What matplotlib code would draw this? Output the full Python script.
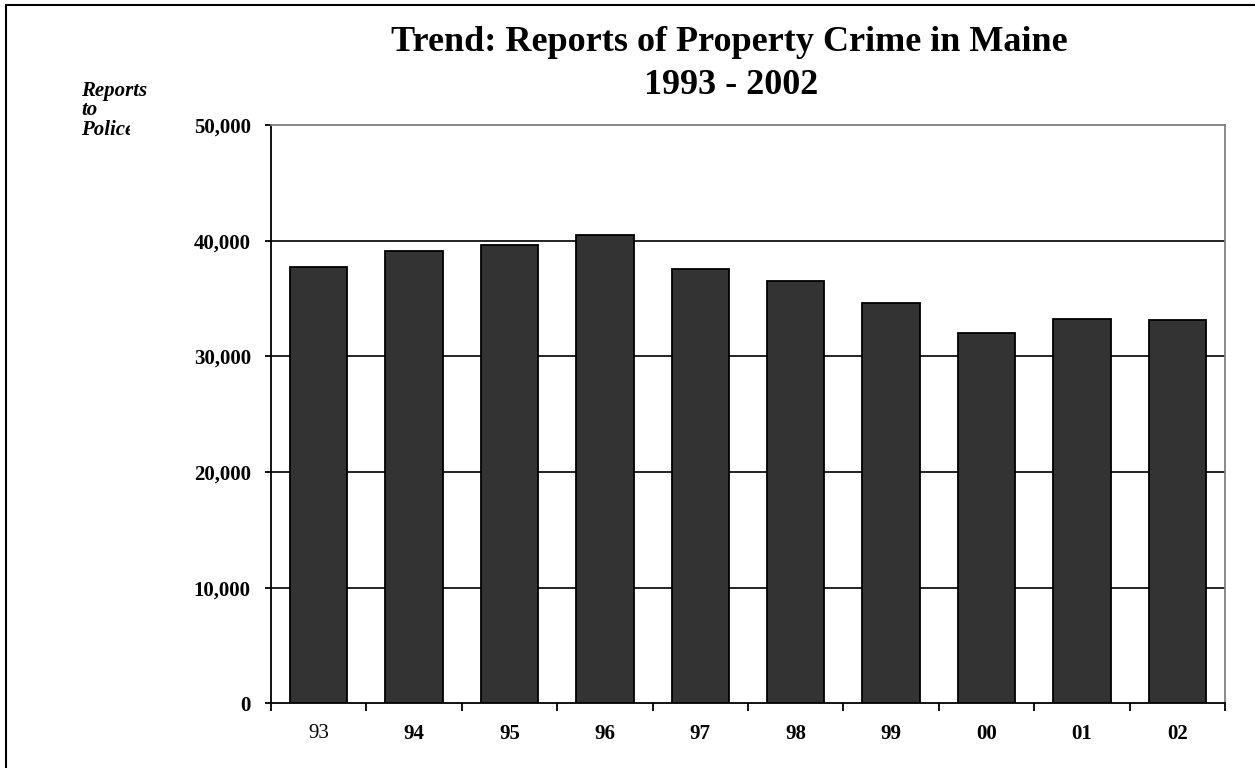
import matplotlib
matplotlib.use("Agg")
import matplotlib.pyplot as plt
from matplotlib.patches import Rectangle
from matplotlib.transforms import Bbox
from matplotlib.ticker import FixedLocator, FuncFormatter

categories = ["93", "94", "95", "96", "97", "98", "99", "00", "01", "02"]
reports = [37700, 39100, 39600, 40500, 37550, 36500, 34600, 32000, 33200, 33100]
y_ticks = [0, 10000, 20000, 30000, 40000, 50000]

W, H = 1255, 768
fig = plt.figure(figsize=(W / 100, H / 100), dpi=100)
serif = "Liberation Serif"

def fx(px):
    return px / W

def fy(py):
    return 1 - py / H

ax = fig.add_axes([fx(271), fy(703.3), fx(1225) - fx(271), fy(125) - fy(703.3)])
x = list(range(len(categories)))
ax.bar(x, reports, width=0.6, color="#333333", edgecolor="black", linewidth=1.3, zorder=3)

ax.set_xlim(-0.5, len(categories) - 0.5)
ax.set_ylim(0, 50000)

# gridlines
for t in y_ticks[1:-1]:
    ax.axhline(t, color="black", linewidth=1.2, zorder=1)

for s in ["left", "bottom"]:
    ax.spines[s].set_color("black")
    ax.spines[s].set_linewidth(1.3)
for s in ["top", "right"]:
    ax.spines[s].set_color("#808080")
    ax.spines[s].set_linewidth(1.3)

ax.yaxis.set_major_locator(FixedLocator(y_ticks))
ax.yaxis.set_major_formatter(FuncFormatter(lambda v, p: f"{int(v):,}"))
ax.tick_params(axis="y", direction="out", length=4.5, width=1.3, pad=10, color="black")
for lab in ax.get_yticklabels():
    lab.set_fontfamily(serif)
    lab.set_fontweight("bold")
    lab.set_fontsize(15)

ax.set_xticks(x)
ax.set_xticklabels(categories)
ax.set_xticks([i - 0.5 for i in range(len(categories) + 1)], minor=True)
ax.tick_params(axis="x", which="major", length=0, pad=15)
ax.tick_params(axis="x", which="minor", direction="out", length=6, width=1.3, color="black")
for i, lab in enumerate(ax.get_xticklabels()):
    lab.set_fontfamily(serif)
    lab.set_fontsize(15)
    lab.set_fontweight("normal" if i == 0 else "bold")

# title
fig.text(fx(729), fy(51), "Trend: Reports of Property Crime in Maine", ha="center", va="baseline",
         fontfamily=serif, fontweight="bold", fontsize=26)
fig.text(fx(731), fy(94), "1993 - 2002", ha="center", va="baseline",
         fontfamily=serif, fontweight="bold", fontsize=26)

# y-axis caption
fig.text(fx(81), fy(96), "Reports", ha="left", va="baseline", fontfamily=serif,
         fontweight="bold", style="italic", fontsize=15)
fig.text(fx(81), fy(115), "to", ha="left", va="baseline", fontfamily=serif,
         fontweight="bold", style="italic", fontsize=15)
t3 = fig.text(fx(81), fy(135), "Police", ha="left", va="baseline", fontfamily=serif,
              fontweight="bold", style="italic", fontsize=15)
t3.set_clip_box(Bbox([[0, 0], [130, H]]))
t3.set_clip_on(True)

# figure border (left and top visible)
border = Rectangle((fx(6), -0.1), 1.2, fy(5) + 0.1, transform=fig.transFigure,
                   fill=False, edgecolor="black", linewidth=1.5)
fig.patches.append(border)

fig.savefig("out.png", dpi=100)
